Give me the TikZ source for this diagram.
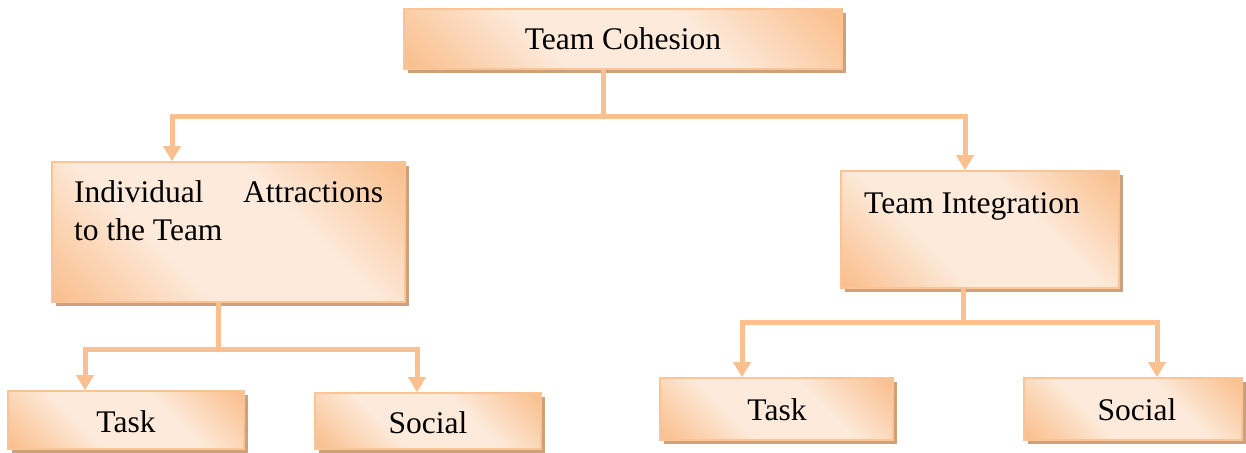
\documentclass[tikz,border=0pt]{standalone}
\usepackage{fontspec}
\setmainfont{LiberationSerif}[Extension=.ttf, UprightFont=*-Regular, BoldFont=*-Bold, ItalicFont=*-Italic]
\usetikzlibrary{arrows.meta,shadows}
\definecolor{orc}{RGB}{250,192,143}
\definecolor{ltc}{RGB}{253,234,218}
\definecolor{bordc}{RGB}{250,196,150}
\definecolor{shadc}{RGB}{203,161,126}
\pgfdeclareverticalshading{boxshade}{100bp}{color(0bp)=(orc); color(16bp)=(orc); color(38bp)=(ltc); color(62bp)=(ltc); color(84bp)=(orc); color(100bp)=(orc)}
\tikzset{
  box/.style={rectangle, draw=bordc, line width=1.6pt, inner sep=0pt, shading=boxshade, shading angle=-45,
    drop shadow={shadow xshift=4pt, shadow yshift=-4pt, fill=shadc, opacity=1}},
  lbl/.style={inner sep=0pt, font=\fontsize{31.5}{38}\selectfont},
  conn/.style={draw=orc, line width=5pt, line join=miter},
  arr/.style={conn, -{Triangle[width=17pt,length=15pt]}}
}
\begin{document}
\begin{tikzpicture}[x=1pt,y=-1pt]
\useasboundingbox (0,0) rectangle (1246,452);
% boxes
\node[box, minimum width=438pt, minimum height=60pt] (tc) at (623,39) {};
\node[box, minimum width=353pt, minimum height=140pt] (iat) at (228.5,232) {};
\node[box, minimum width=278pt, minimum height=117pt] (ti) at (980,229.5) {};
\node[box, minimum width=236pt, minimum height=58pt] (t1) at (126,420) {};
\node[box, minimum width=226pt, minimum height=56pt] (s1) at (428,421) {};
\node[box, minimum width=233pt, minimum height=62pt] (t2) at (776.5,409) {};
\node[box, minimum width=218pt, minimum height=62pt] (s2) at (1133,409) {};
% labels
\node[lbl, anchor=base] (tcl) at (623,50) {Team Cohesion};
\node[lbl, anchor=north west, text width=309pt, align=justify] (iatl) at (74,180) {Individual Attractions\linebreak to the Team};
\node[lbl, anchor=base west] (til) at (864,213) {Team Integration};
\node[lbl, anchor=base] (t1l) at (126,432) {Task};
\node[lbl, anchor=base] (s1l) at (428,433) {Social};
\node[lbl, anchor=base] (t2l) at (777,420) {Task};
\node[lbl, anchor=base] (s2l) at (1137,420) {Social};
% connector coordinates
\coordinate (j1) at (603,116);
\coordinate (b1l) at (172,116);
\coordinate (b1r) at (965,116);
\coordinate (j2) at (218,349);
\coordinate (b2l) at (85,349);
\coordinate (b2r) at (417,349);
\coordinate (j3) at (963,322);
\coordinate (b3l) at (742,322);
\coordinate (b3r) at (1157,322);
% connectors
\draw[conn] (tc.south -| j1) -- (j1);
\draw[arr] (j1) -- (b1l) -- (b1l |- iat.north);
\draw[arr] (j1) -- (b1r) -- (b1r |- ti.north);
\draw[conn] (iat.south -| j2) -- (j2);
\draw[arr] (j2) -- (b2l) -- (b2l |- t1.north);
\draw[arr] (j2) -- (b2r) -- (b2r |- s1.north);
\draw[conn] (ti.south -| j3) -- (j3);
\draw[arr] (j3) -- (b3l) -- (b3l |- t2.north);
\draw[arr] (j3) -- (b3r) -- (b3r |- s2.north);
\end{tikzpicture}
\end{document}
